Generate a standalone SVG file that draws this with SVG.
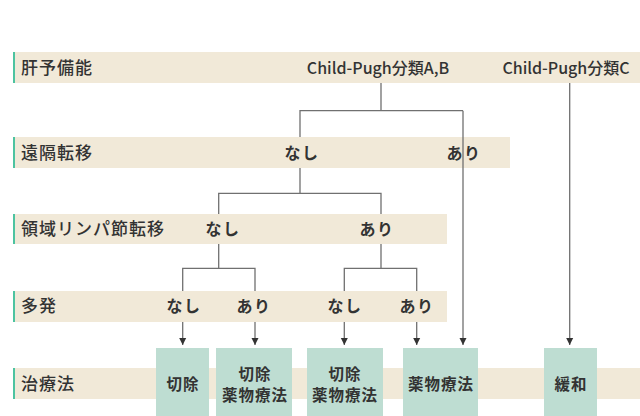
<svg xmlns="http://www.w3.org/2000/svg" width="640" height="416" viewBox="0 0 640 416">
<defs>
<style>
.band{fill:#F1E9D8}
.acc{fill:#4DC3A0}
.box{fill:#BEDDD2}
.lbl{font-family:"Noto Sans CJK JP","Noto Sans",sans-serif;font-size:17px;letter-spacing:1px;fill:#333;font-weight:500}
.opt{font-family:"Noto Sans CJK JP","Noto Sans",sans-serif;font-size:16px;letter-spacing:1.5px;fill:#333;font-weight:700;text-anchor:middle}
.cp{font-family:"Noto Sans CJK JP","Noto Sans",sans-serif;font-size:16px;fill:#333;font-weight:500;text-anchor:middle}
.bt{font-family:"Noto Sans CJK JP","Noto Sans",sans-serif;font-size:15.5px;letter-spacing:1px;fill:#333;font-weight:700;text-anchor:middle}
.ln{fill:none;stroke:#707070;stroke-width:1.3}
</style>
<marker id="ah" markerWidth="8" markerHeight="8" refX="7" refY="4" orient="auto" markerUnits="userSpaceOnUse" viewBox="0 0 8 8">
<path d="M0,0.5 L7,4 L0,7.5 Z" fill="#333"/>
</marker>
</defs>
<rect width="640" height="416" fill="#fff"/>
<g id="row-liver">
<rect class="band" x="13" y="52" width="627" height="31"/>
<rect class="acc" x="13" y="52" width="2" height="31"/>
<text class="lbl" x="21" y="74">肝予備能</text>
<text class="cp" x="378" y="74">Child-Pugh分類A,B</text>
<text class="cp" x="566" y="74">Child-Pugh分類C</text>
</g>
<g id="row-distant">
<rect class="band" x="13" y="137" width="497" height="31"/>
<rect class="acc" x="13" y="137" width="2" height="31"/>
<text class="lbl" x="21" y="159">遠隔転移</text>
<text class="opt" x="302" y="159">なし</text>
<text class="opt" x="464" y="159">あり</text>
</g>
<g id="row-lymph">
<rect class="band" x="13" y="214" width="434" height="30"/>
<rect class="acc" x="13" y="214" width="2" height="30"/>
<text class="lbl" x="21" y="235">領域リンパ節転移</text>
<text class="opt" x="223" y="235">なし</text>
<text class="opt" x="377" y="235">あり</text>
</g>
<g id="row-multi">
<rect class="band" x="13" y="291" width="434" height="31"/>
<rect class="acc" x="13" y="291" width="2" height="31"/>
<text class="lbl" x="21" y="312">多発</text>
<text class="opt" x="184" y="312">なし</text>
<text class="opt" x="254" y="312">あり</text>
<text class="opt" x="345" y="312">なし</text>
<text class="opt" x="417" y="312">あり</text>
</g>
<g id="row-treat">
<rect class="band" x="13" y="368" width="627" height="31"/>
<rect class="acc" x="13" y="368" width="2" height="31"/>
<text class="lbl" x="21" y="390">治療法</text>
</g>
<g id="t-resect">
<rect class="box" x="156" y="348" width="53" height="68"/>
<text class="bt" x="183" y="390">切除</text>
</g>
<g id="t-resect-drug">
<rect class="box" x="216" y="348" width="76" height="68"/>
<text class="bt" x="255" y="380">切除</text>
<text class="bt" x="255" y="401">薬物療法</text>
</g>
<g id="t-resect-drug2">
<rect class="box" x="307" y="348" width="76" height="68"/>
<text class="bt" x="345" y="380">切除</text>
<text class="bt" x="345" y="401">薬物療法</text>
</g>
<g id="t-drug">
<rect class="box" x="403" y="348" width="75" height="68"/>
<text class="bt" x="441" y="390">薬物療法</text>
</g>
<g id="t-palliative">
<rect class="box" x="544" y="348" width="53" height="68"/>
<text class="bt" x="571" y="390">緩和</text>
</g>
<g id="connectors">
<path class="ln" d="M381,83 V110.7 M300,137 V110.7 H463"/>
<path class="ln" d="M463,110.7 V345" marker-end="url(#ah)"/>
<path class="ln" d="M569.7,83 V345" marker-end="url(#ah)"/>
<path class="ln" d="M300,168 V193.3 M218.7,214 V193.3 H381 V214"/>
<path class="ln" d="M218.7,244 V268.3 M182.7,291 V268.3 H255 V291"/>
<path class="ln" d="M381,244 V268.3 M344.3,291 V268.3 H416.7 V291"/>
<path class="ln" d="M182.7,322 V345" marker-end="url(#ah)"/>
<path class="ln" d="M255,322 V345" marker-end="url(#ah)"/>
<path class="ln" d="M344.3,322 V345" marker-end="url(#ah)"/>
<path class="ln" d="M416.7,322 V345" marker-end="url(#ah)"/>
</g>
</svg>
